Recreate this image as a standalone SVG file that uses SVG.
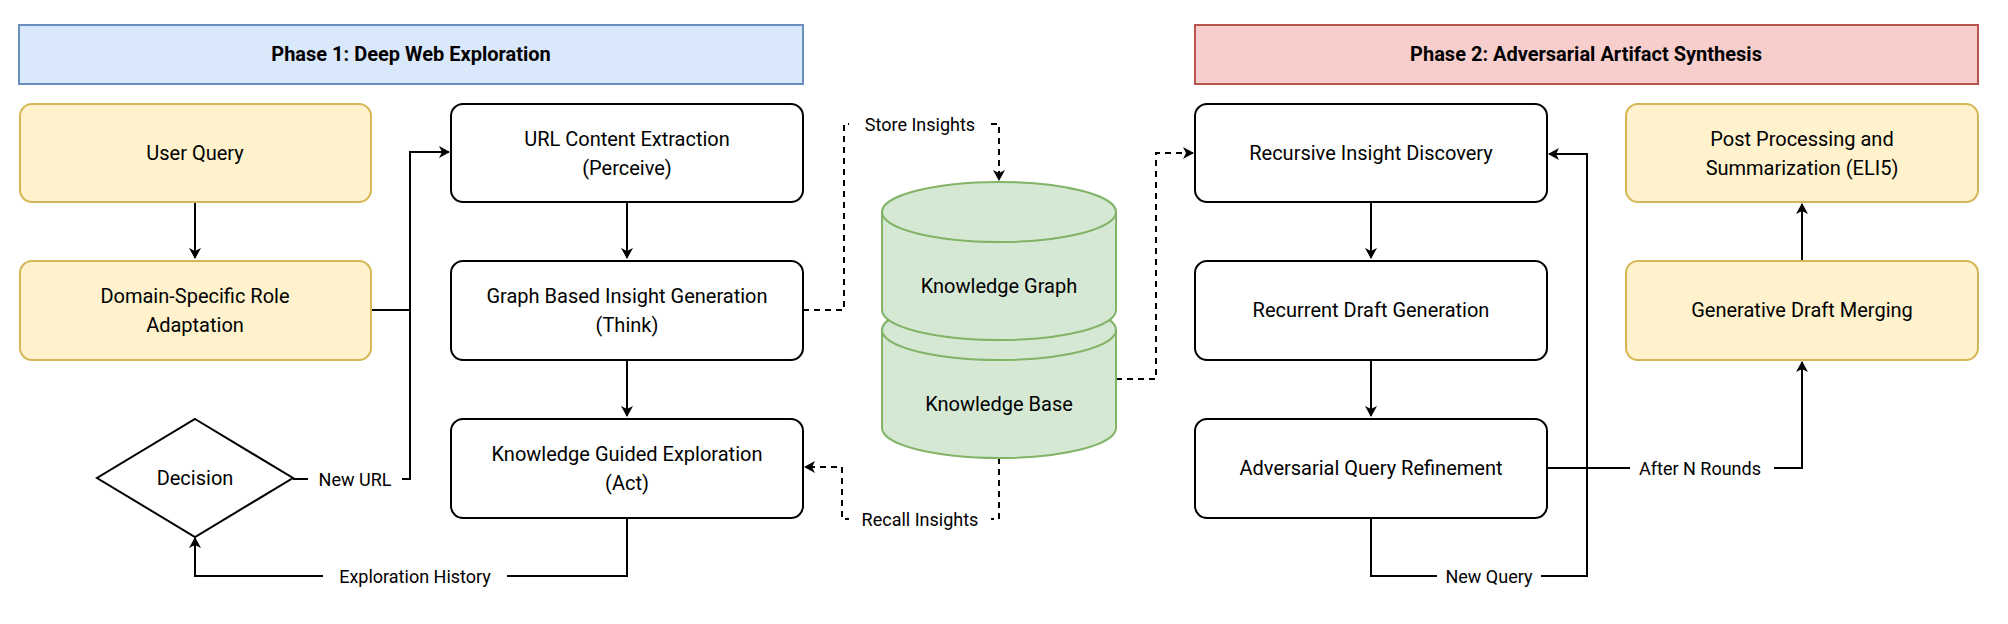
<svg xmlns="http://www.w3.org/2000/svg" width="2008" height="624" viewBox="0 0 2008 624">
<defs>
<marker id="ar" markerWidth="12" markerHeight="12" refX="10" refY="6" orient="auto" markerUnits="userSpaceOnUse"><path d="M0,0 L11,6 L0,12 L3,6 Z" fill="#000"/></marker>
<style>
text{font-family:Roboto,"Liberation Sans",sans-serif;font-size:20px;fill:#000;text-anchor:middle;dominant-baseline:central}
.t{font-weight:bold}
.lb{font-size:18px}
.n{fill:#fff;stroke:#000;stroke-width:2}
.y{fill:#fff2cc;stroke:#d6b656;stroke-width:2}
.g{fill:#d5e8d4;stroke:#82b366;stroke-width:2}
.c{fill:none;stroke:#000;stroke-width:2}
.d{fill:none;stroke:#000;stroke-width:2;stroke-dasharray:6 5}
.bg{fill:#fff;stroke:none}
</style>
</defs>
<rect width="2008" height="624" fill="#fff"/>
<g id="phase1"><rect x="19" y="25" width="784" height="59" fill="#dae8fc" stroke="#6c8ebf" stroke-width="2"/><text class="t" x="411" y="54">Phase 1: Deep Web Exploration</text></g>
<g id="phase2"><rect x="1195" y="25" width="783" height="59" fill="#f8cecc" stroke="#b85450" stroke-width="2"/><text class="t" x="1586" y="54">Phase 2: Adversarial Artifact Synthesis</text></g>
<g id="connectors">
<path class="c" d="M195,202 V258" marker-end="url(#ar)"/>
<path class="c" d="M371,310 H410 V152 H449" marker-end="url(#ar)"/>
<path class="c" d="M293,479 H410 V310"/>
<path class="c" d="M627,202 V258" marker-end="url(#ar)"/>
<path class="c" d="M627,360 V416" marker-end="url(#ar)"/>
<path class="c" d="M627,518 V576 H195 V538" marker-end="url(#ar)"/>
<path class="d" d="M803,310 H844 V124 H999 V180" marker-end="url(#ar)"/>
<path class="d" d="M999,458 V519 H842 V467 H805" marker-end="url(#ar)"/>
<path class="d" d="M1116,379 H1156 V153 H1193" marker-end="url(#ar)"/>
<path class="c" d="M1371,202 V258" marker-end="url(#ar)"/>
<path class="c" d="M1371,360 V416" marker-end="url(#ar)"/>
<path class="c" d="M1371,518 V576 H1587 V154 H1549" marker-end="url(#ar)"/>
<path class="c" d="M1547,468 H1802 V362" marker-end="url(#ar)"/>
<path class="c" d="M1802,261 V204" marker-end="url(#ar)"/>
<rect class="bg" x="308" y="467" width="94" height="24"/><text class="lb" x="355" y="479">New URL</text>
<rect class="bg" x="323" y="564" width="184" height="24"/><text class="lb" x="415" y="576">Exploration History</text>
<rect class="bg" x="849" y="112" width="142" height="24"/><text class="lb" x="920" y="124">Store Insights</text>
<rect class="bg" x="849" y="507" width="142" height="24"/><text class="lb" x="920" y="519">Recall Insights</text>
<rect class="bg" x="1437" y="564" width="104" height="24"/><text class="lb" x="1489" y="576">New Query</text>
<rect class="bg" x="1630" y="456" width="144" height="24"/><text class="lb" x="1700" y="468">After N Rounds</text>
</g>
<g id="user-query"><rect class="y" x="20" y="104" width="351" height="98" rx="12"/><text x="195" y="153">User Query</text></g>
<g id="domain-role"><rect class="y" x="20" y="261" width="351" height="99" rx="12"/><text x="195" y="296">Domain-Specific Role</text><text x="195" y="325">Adaptation</text></g>
<g id="decision"><path d="M195,419 L293,478 L195,537 L97,478 Z" fill="#fff" stroke="#000" stroke-width="2"/><text x="195" y="478">Decision</text></g>
<g id="url-extraction"><rect class="n" x="451" y="104" width="352" height="98" rx="12"/><text x="627" y="139">URL Content Extraction</text><text x="627" y="168">(Perceive)</text></g>
<g id="graph-insight"><rect class="n" x="451" y="261" width="352" height="99" rx="12"/><text x="627" y="296">Graph Based Insight Generation</text><text x="627" y="325">(Think)</text></g>
<g id="knowledge-exploration"><rect class="n" x="451" y="419" width="352" height="99" rx="12"/><text x="627" y="454">Knowledge Guided Exploration</text><text x="627" y="483">(Act)</text></g>
<g id="knowledge-base"><path class="g" d="M882,330 A117,30 0 0 1 1116,330 V428 A117,30 0 0 1 882,428 Z"/><path fill="none" stroke="#82b366" stroke-width="2" d="M882,330 A117,30 0 0 0 1116,330"/><text x="999" y="404">Knowledge Base</text></g>
<g id="knowledge-graph"><path class="g" d="M882,212 A117,30 0 0 1 1116,212 V310 A117,30 0 0 1 882,310 Z"/><path fill="none" stroke="#82b366" stroke-width="2" d="M882,212 A117,30 0 0 0 1116,212"/><text x="999" y="286">Knowledge Graph</text></g>
<g id="recursive-insight"><rect class="n" x="1195" y="104" width="352" height="98" rx="12"/><text x="1371" y="153">Recursive Insight Discovery</text></g>
<g id="recurrent-draft"><rect class="n" x="1195" y="261" width="352" height="99" rx="12"/><text x="1371" y="310">Recurrent Draft Generation</text></g>
<g id="adversarial-query"><rect class="n" x="1195" y="419" width="352" height="99" rx="12"/><text x="1371" y="468">Adversarial Query Refinement</text></g>
<g id="post-processing"><rect class="y" x="1626" y="104" width="352" height="98" rx="12"/><text x="1802" y="139">Post Processing and</text><text x="1802" y="168">Summarization (ELI5)</text></g>
<g id="draft-merging"><rect class="y" x="1626" y="261" width="352" height="99" rx="12"/><text x="1802" y="310">Generative Draft Merging</text></g>
</svg>
